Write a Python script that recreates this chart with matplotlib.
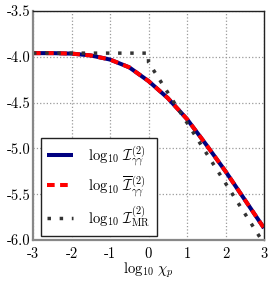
import matplotlib
matplotlib.use("Agg")
import matplotlib.pyplot as plt

# ---- data ----
x_gg = [-3.0, -2.5, -2.0, -1.5, -1.0, -0.5, 0.0, 0.5, 1.0, 1.5, 2.0, 2.5, 3.0]
y_gg = [-3.96, -3.96, -3.965, -3.985, -4.03, -4.115, -4.265, -4.45, -4.68, -4.96, -5.25, -5.56, -5.87]
y_gg_bar = [-3.96, -3.96, -3.965, -3.985, -4.03, -4.115, -4.265, -4.45, -4.68, -4.96, -5.25, -5.56, -5.87]
x_mr = [-3.0, 0.0, 0.0, 3.0]
y_mr = [-3.96, -3.96, -4.06, -6.04]

xticks = [-3, -2, -1, 0, 1, 2, 3]
xticklabels = ["-3", "-2", "-1", "0", "1", "2", "3"]
yticks = [-6.0, -5.5, -5.0, -4.5, -4.0, -3.5]
yticklabels = ["-6.0", "-5.5", "-5.0", "-4.5", "-4.0", "-3.5"]

labels = [r"$\log_{10}\,\mathcal{I}^{(2)}_{\gamma\gamma}$",
          r"$\log_{10}\,\overline{\mathcal{I}}^{(2)}_{\gamma\gamma}$",
          r"$\log_{10}\,\mathcal{I}^{(2)}_{\rm MR}$"]
xlabel = r"$\log_{10}\,\chi_p$"

plt.rcParams["mathtext.fontset"] = "cm"
plt.rcParams["font.family"] = ["cmr10", "DejaVu Serif"]
plt.rcParams["axes.unicode_minus"] = False
plt.rcParams["axes.formatter.use_mathtext"] = True

fig = plt.figure(figsize=(2.73, 2.81), dpi=100)
ax = fig.add_axes([33/273, 1-240/281, (264-33)/273, (240-11)/281])

ax.plot(x_gg, y_gg, color="#000080", lw=2.9, solid_capstyle="butt", label=labels[0])
ax.plot(x_gg, y_gg_bar, color="#ff0000", lw=2.9, dashes=(1.9, 1.35), dash_capstyle="butt", label=labels[1])
ax.plot(x_mr, y_mr, color="#333333", lw=2.5, dashes=(1.0, 2.5), dash_capstyle="butt", label=labels[2])

ax.set_xlim(-3, 3)
ax.set_ylim(-6, -3.5)
ax.set_xticks(xticks)
ax.set_xticklabels(xticklabels)
ax.set_yticks(yticks)
ax.set_yticklabels(yticklabels)
ax.tick_params(length=0, labelsize=10.5)
ax.tick_params(axis="x", pad=5)
ax.tick_params(axis="y", pad=2)
ax.grid(True, color="#9a9a9a", ls=":", lw=0.9)
ax.set_axisbelow(True)

for s in ["left", "bottom"]:
    ax.spines[s].set_color("#888888")
    ax.spines[s].set_linewidth(1.6)
for s in ["top", "right"]:
    ax.spines[s].set_color("#222222")
    ax.spines[s].set_linewidth(1.0)

ax.set_xlabel(xlabel, fontsize=10.5, labelpad=0)

leg = ax.legend(loc="lower left", bbox_to_anchor=(0.033, 0.019), borderaxespad=0,
                fontsize=10.5, fancybox=False, framealpha=1, edgecolor="#222222",
                handlelength=1.8, handletextpad=1.0, labelspacing=0.4, borderpad=0.45)
leg.get_frame().set_linewidth(1.0)

fig.savefig("out.png", dpi=100)
